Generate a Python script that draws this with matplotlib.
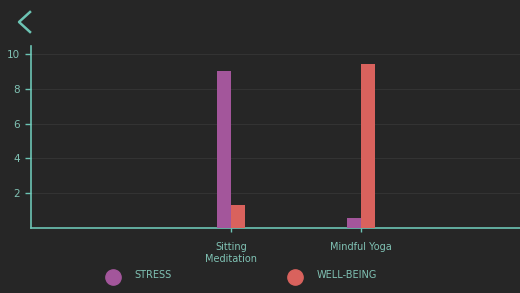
import matplotlib.pyplot as plt
from matplotlib.lines import Line2D

# data
categories = ['Sitting\nMeditation', 'Mindful Yoga']
stress = [9.0, 0.6]
well_being = [1.3, 9.4]
yticks = [2, 4, 6, 8, 10]

bg = '#262626'
teal = '#6cc4b4'
txt = '#80c2b4'
c_stress = '#a3569b'
c_well = '#d9625d'

fig = plt.figure(figsize=(5.2, 2.93), dpi=100, facecolor=bg)
ax = fig.add_axes([31/520, 65/293, 489/520, 182/293], facecolor=bg)

x = list(range(1, len(categories) + 1))
w = 0.11
ax.bar([i - w/2 for i in x], stress, width=w, color=c_stress, zorder=3)
ax.bar([i + w/2 for i in x], well_being, width=w, color=c_well, zorder=3)

ax.set_xlim(1 - 200/130, 2 + 159/130)
ax.set_ylim(0, 10.46)
ax.set_yticks(yticks)
ax.set_xticks(x)
ax.set_xticklabels(categories)
ax.grid(axis='y', color='#333333', linewidth=0.8, zorder=0)

for s in ['top', 'right']:
    ax.spines[s].set_visible(False)
for s in ['left', 'bottom']:
    ax.spines[s].set_color(teal)
    ax.spines[s].set_linewidth(1.2)
ax.tick_params(axis='y', colors=teal, labelcolor=txt, labelsize=7.5, length=4, width=1, pad=4)
ax.tick_params(axis='x', colors=teal, labelcolor=txt, labelsize=7, length=3, width=1, pad=7)
for lab in ax.get_xticklabels():
    lab.set_linespacing(1.3)

# back arrow
fig.add_artist(Line2D([30/520, 19/520, 30/520], [1 - 12/293, 1 - 22/293, 1 - 32/293],
                      color=teal, linewidth=1.8, transform=fig.transFigure))

# legend
for xc, xt, col, lab in [(113, 134, c_stress, 'STRESS'), (295, 317, c_well, 'WELL-BEING')]:
    fig.add_artist(Line2D([xc/520], [1 - 277/293], marker='o', markersize=11,
                          color=col, linestyle='none', transform=fig.transFigure))
    fig.text(xt/520, 1 - 275/293, lab, color=txt, fontsize=7, va='center', ha='left')

fig.savefig('out.png', dpi=100, facecolor=bg)
